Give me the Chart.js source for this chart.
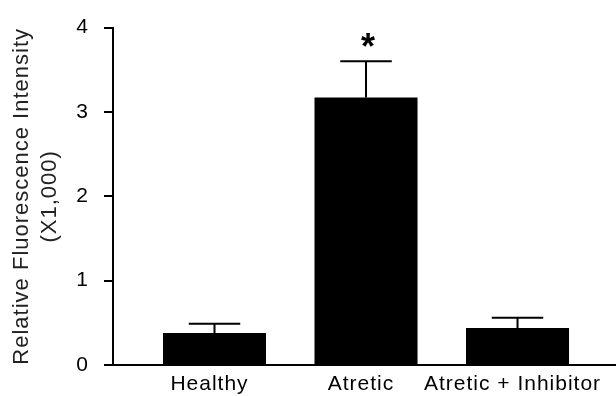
<!DOCTYPE html>
<html>
<head>
<meta charset="utf-8">
<script src="https://cdn.jsdelivr.net/npm/chart.js@4.4.0/dist/chart.umd.min.js"></script>
<style>
body{margin:0;background:#fff;}
#box{width:616px;height:396px;}
</style>
</head>
<body>
<div id="box"><canvas id="myChart" width="616" height="396"></canvas></div>
<script>
// values
const groups = ['Healthy', 'Atretic', 'Atretic + Inhibitor'];
const means = [0.38, 3.17, 0.44];
const errs = [0.11, 0.43, 0.12];
const marks = ['', '*', ''];
const yTicks = [0, 1, 2, 3, 4];

// the figure's text is set a bit wide
const spacing = {
  id: 'spacing',
  beforeLayout(chart){ chart.ctx.letterSpacing = '1px'; },
  beforeDraw(chart){ chart.ctx.letterSpacing = '1px'; }
};

// upper error bars + significance mark
const errorBars = {
  id: 'errorBars',
  afterDatasetsDraw(chart){
    const ctx = chart.ctx;
    const xs = chart.scales.x;
    const ys = chart.scales.y;
    const bars = chart.getDatasetMeta(0).data;
    ctx.save();
    ctx.strokeStyle = '#000';
    ctx.lineWidth = 2;
    for (let i = 0; i < means.length; i++){
      const x = xs.getPixelForValue(i);
      const y0 = ys.getPixelForValue(means[i]);
      const y1 = ys.getPixelForValue(means[i] + errs[i]);
      const half = bars[i].width / 4;
      ctx.beginPath();
      ctx.moveTo(x, y0);
      ctx.lineTo(x, y1);
      ctx.moveTo(x - half, y1);
      ctx.lineTo(x + half, y1);
      ctx.stroke();
      if (marks[i] != ''){
        ctx.letterSpacing = '0px';
        ctx.font = 'bold 36px "Liberation Sans", Arial, sans-serif';
        ctx.textAlign = 'center';
        ctx.textBaseline = 'alphabetic';
        ctx.fillStyle = '#000';
        ctx.fillText(marks[i], x + 2, y1 - 2);
      }
    }
    ctx.restore();
  }
};

Chart.defaults.font.family = '"Liberation Sans", Arial, Helvetica, sans-serif';

const ctx = document.getElementById('myChart');
new Chart(ctx, {
  type: 'bar',
  data: {
    datasets: [{
      data: means.map((v, i) => ({x: i, y: v})),
      backgroundColor: '#000',
      borderWidth: 0,
      barPercentage: 0.68,
      categoryPercentage: 1
    }]
  },
  options: {
    responsive: false,
    animation: false,
    devicePixelRatio: 1,
    layout: { padding: { top: 23, right: 0, bottom: 0, left: 0 } },
    plugins: { legend: { display: false }, tooltip: { enabled: false } },
    scales: {
      x: {
        type: 'linear',
        offset: false,
        min: -0.67,
        max: 2.65,
        afterBuildTicks(scale){ scale.ticks = groups.map((g, i) => ({value: i})); },
        afterFit(scale){ scale.height = 31; },
        grid: { display: false, drawTicks: false, offset: false },
        border: { display: true, color: '#000', width: 2 },
        ticks: {
          callback: v => groups[v],
          font: { size: 21 },
          color: '#000',
          padding: 7,
          labelOffset: -5,
          autoSkip: false,
          maxRotation: 0
        }
      },
      y: {
        min: 0,
        max: 4,
        afterBuildTicks(scale){ scale.ticks = yTicks.map(v => ({value: v})); },
        afterFit(scale){ scale.width = 113; },
        grid: { drawOnChartArea: false, drawTicks: true, tickLength: 9, color: '#000', lineWidth: 2 },
        border: { display: true, color: '#000', width: 2 },
        ticks: { font: { size: 21 }, color: '#000', padding: 15 },
        title: {
          display: true,
          text: ['Relative Fluorescence Intensity', '(X1,000)'],
          font: { size: 22, lineHeight: 1.27 },
          color: '#222',
          padding: { top: 8, bottom: 0 }
        }
      }
    }
  },
  plugins: [spacing, errorBars]
});
</script>
</body>
</html>
